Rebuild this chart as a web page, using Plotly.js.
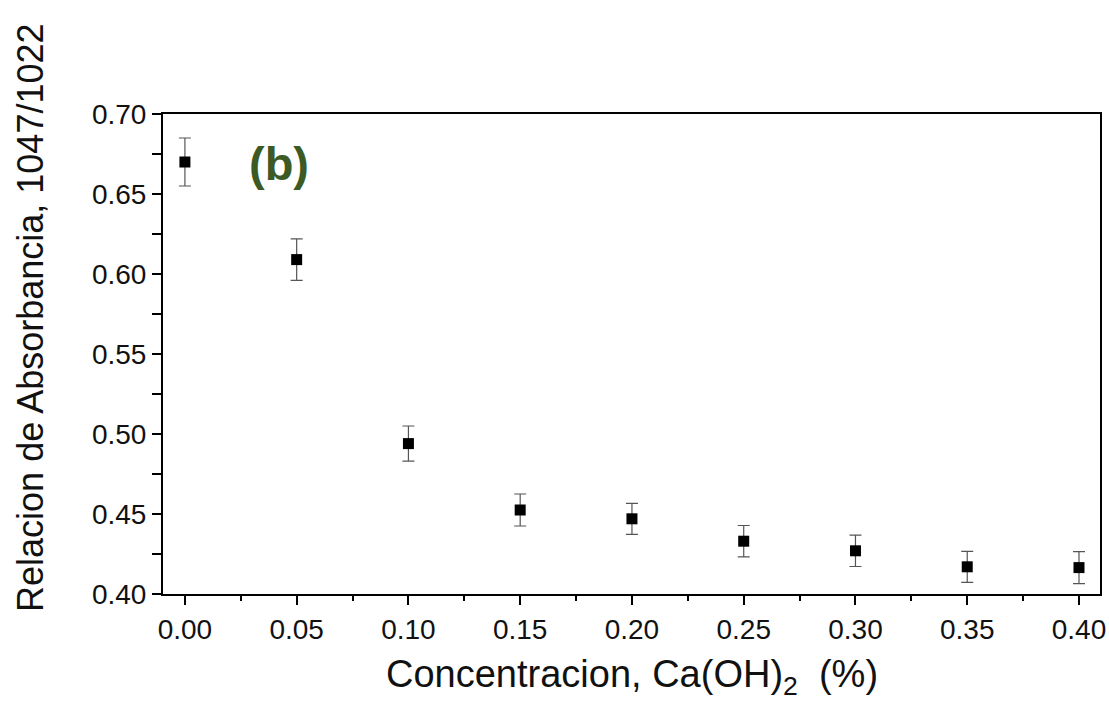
<!DOCTYPE html>
<html>
<head>
<meta charset="utf-8">
<script src="https://cdn.plot.ly/plotly-3.0.1.min.js"></script>
<style>
  html, body { margin: 0; padding: 0; background: #fff; }
  #chart { width: 1109px; height: 702px; }
</style>
</head>
<body>
<div id="chart"></div>
<script>
// Ca(OH)2 concentration (%) and absorbance ratio 1047/1022 cm-1
const concentration = [0.00, 0.05, 0.10, 0.15, 0.20, 0.25, 0.30, 0.35, 0.40];
const absorbanceRatio = [0.670, 0.609, 0.494, 0.4525, 0.447, 0.433, 0.427, 0.417, 0.4165];
const ratioError = [0.015, 0.013, 0.011, 0.010, 0.0097, 0.0098, 0.0098, 0.0097, 0.0100];
const xTicks = [0.00, 0.05, 0.10, 0.15, 0.20, 0.25, 0.30, 0.35, 0.40];
const xTickLabels = ['0.00', '0.05', '0.10', '0.15', '0.20', '0.25', '0.30', '0.35', '0.40'];
const yTicks = [0.40, 0.45, 0.50, 0.55, 0.60, 0.65, 0.70];
const yTickLabels = ['0.40', '0.45', '0.50', '0.55', '0.60', '0.65', '0.70'];

const font = 'Liberation Sans, Arial, sans-serif';

const trace = {
  x: concentration,
  y: absorbanceRatio,
  type: 'scatter',
  mode: 'markers',
  marker: { symbol: 'square', size: 11, color: '#000' },
  error_y: {
    type: 'data',
    array: ratioError,
    visible: true,
    color: '#555',
    thickness: 1.2,
    width: 6
  },
  hoverinfo: 'x+y'
};

const axisCommon = {
  showline: true,
  linecolor: '#000',
  linewidth: 2,
  mirror: true,
  ticks: 'outside',
  ticklen: 9,
  tickwidth: 2,
  tickcolor: '#000',
  showgrid: false,
  zeroline: false,
  tickfont: { family: font, size: 28, color: '#111' }
};

const layout = {
  width: 1109,
  height: 702,
  margin: { l: 163, r: 9, t: 114, b: 108 },
  paper_bgcolor: '#fff',
  plot_bgcolor: '#fff',
  showlegend: false,
  xaxis: Object.assign({}, axisCommon, {
    range: [-0.0098, 0.4094],
    tickmode: 'array',
    tickvals: xTicks,
    ticktext: xTickLabels,
    minor: { dtick: 0.025, ticks: 'outside', ticklen: 5, tickwidth: 2, tickcolor: '#000', showgrid: false }
  }),
  yaxis: Object.assign({}, axisCommon, {
    range: [0.40, 0.70],
    tickmode: 'array',
    tickvals: yTicks,
    ticktext: yTickLabels,
    minor: { dtick: 0.025, ticks: 'outside', ticklen: 9, tickwidth: 2, tickcolor: '#000', showgrid: false }
  }),
  annotations: [
    {
      // x-axis title
      text: 'Concentracion, Ca(OH)<sub>2</sub>  (%)',
      xref: 'paper', yref: 'paper',
      x: 0.5005, y: -0.172,
      xanchor: 'center', yanchor: 'middle',
      showarrow: false,
      font: { family: font, size: 38, color: '#111' }
    },
    {
      // y-axis title
      text: 'Relacion de Absorbancia, 1047/1022',
      textangle: -90,
      xref: 'paper', yref: 'paper',
      x: -0.142, y: 0.575,
      xanchor: 'center', yanchor: 'middle',
      showarrow: false,
      font: { family: font, size: 36, color: '#111' }
    },
    {
      text: '<b>(b)</b>',
      xref: 'paper', yref: 'paper',
      x: 0.09, y: 0.957,
      xanchor: 'left', yanchor: 'top',
      showarrow: false,
      font: { family: font, size: 47, color: '#3c5a24' }
    }
  ]
};

Plotly.newPlot('chart', [trace], layout, { displayModeBar: false, staticPlot: true });
</script>
</body>
</html>
